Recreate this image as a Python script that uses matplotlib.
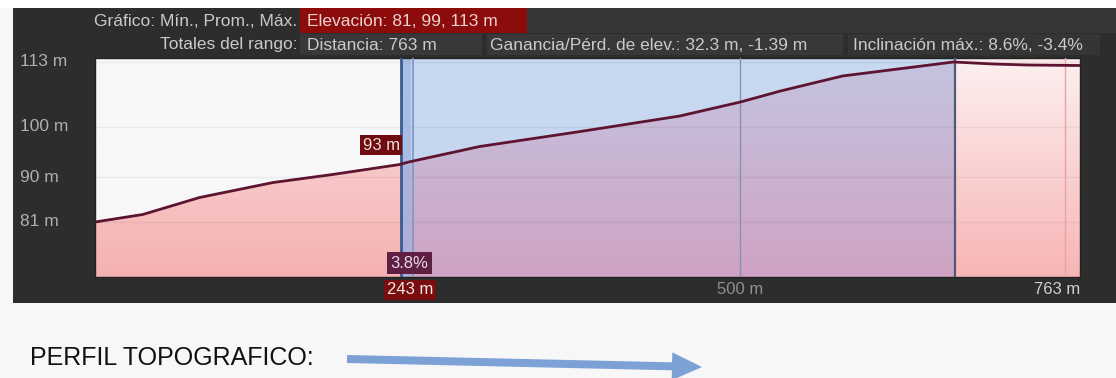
import numpy as np
import matplotlib
matplotlib.use('Agg')
import matplotlib.pyplot as plt
import matplotlib.transforms as mtransforms
from matplotlib.patches import Rectangle, Polygon, FancyArrow
from matplotlib.colors import LinearSegmentedColormap

plt.rcParams['font.family'] = ['Liberation Sans', 'DejaVu Sans']

# Elevation profile (distance in m, elevation in m)
dist = [0, 37, 81, 138, 184, 236, 243, 298, 376, 453, 500, 531, 579, 665, 696, 722, 763]
elev = [81, 82.5, 85.9, 88.9, 90.5, 92.5, 93, 96.1, 99.1, 102.2, 105, 107.2, 110.2, 113, 112.6, 112.4, 112.3]
ytick_vals = [113, 100, 90, 81]
xtick_vals = [500, 763]
sel_start, sel_end = 237, 666
cursor_dist, cursor_elev, cursor_grade = 243, 93, '3.8%'
stats_top = ['Gráfico: Mín., Prom., Máx.', 'Elevación: 81, 99, 113 m']
stats_bottom = ['Totales del rango:', 'Distancia: 763 m',
                'Ganancia/Pérd. de elev.: 32.3 m, -1.39 m', 'Inclinación máx.: 8.6%, -3.4%']

W, H = 1116, 378
y_min, y_max = 70, 113.8
fig = plt.figure(figsize=(W / 100, H / 100), dpi=100, facecolor='#f7f7f7')

# Background canvas in pixel units
bg = fig.add_axes([0, 0, 1, 1], zorder=0)
bg.set_xlim(0, W)
bg.set_ylim(H, 0)
bg.axis('off')

def rect(x0, y0, x1, y1, color, **kw):
    bg.add_patch(Rectangle((x0, y0), x1 - x0, y1 - y0, facecolor=color, edgecolor='none', **kw))

rect(0, 0, W, 8, 'white')
rect(13, 8, W, 303, '#2d2d2d')
rect(527, 8, W, 33, '#363636')
rect(300, 8, 527, 33, '#8c0c0c')
rect(300, 34, 482, 55, '#383838')
rect(487, 34, 843, 55, '#383838')
rect(848, 34, 1100, 55, '#353535')

txt = dict(color='#cacaca', fontsize=12.5, va='center')
bg.text(297, 21, stats_top[0], ha='right', **txt)
bg.text(307, 21, stats_top[1], ha='left', **dict(txt, color='#ecd2d2'))
bg.text(298, 45, stats_bottom[0], ha='right', **txt)
bg.text(307, 45, stats_bottom[1], ha='left', **txt)
bg.text(490, 45, stats_bottom[2], ha='left', **txt)
bg.text(853, 45, stats_bottom[3], ha='left', **txt)

bg.text(30, 358, 'PERFIL TOPOGRAFICO:', fontsize=18, color='#111111', ha='left', va='center')
bg.add_patch(FancyArrow(347, 359, 355, 8, width=8, head_width=28, head_length=30,
                        length_includes_head=True, color='#7ba1d6', ec='none'))

# Main profile axes
ax = fig.add_axes([95 / W, 1 - 277 / H, 985 / W, 219 / H], zorder=1)
ax.set_facecolor('#f8f8fa')

def shade(lo, hi, top_c, bot_c, below=True):
    inner = [(d, e) for d, e in zip(dist, elev) if lo < d < hi]
    edge = [(lo, np.interp(lo, dist, elev))] + inner + [(hi, np.interp(hi, dist, elev))]
    base = y_min if below else y_max
    poly = Polygon([(lo, base)] + edge + [(hi, base)], closed=True,
                   facecolor='none', edgecolor='none')
    ax.add_patch(poly)
    cmap = LinearSegmentedColormap.from_list('g', [bot_c, top_c])
    grad = np.linspace(0, 1, 256).reshape(-1, 1)
    im = ax.imshow(grad, extent=(lo, hi, y_min, y_max), origin='lower', cmap=cmap,
                   aspect='auto', interpolation='bilinear', zorder=1)
    im.set_clip_path(poly)

shade(0, sel_start, '#f8f8fa', '#f8f8fa', below=False)
shade(sel_start, sel_end, '#c9d9f0', '#c2d3ee', below=False)
shade(sel_end, 763, '#fbeaea', '#fbeaea', below=False)
shade(0, sel_start, '#fbe0e0', '#f5b1b1')
shade(sel_start, sel_end, '#c4c4e0', '#cfa3c3')
shade(sel_end, 763, '#fcf0f0', '#f8b5b5')

for v in ytick_vals:
    ax.axhline(v, color='#000000', alpha=0.05, lw=1, zorder=2)

ax.axvspan(sel_start, cursor_dist + 2, color='#9db3df', alpha=0.7, zorder=2, lw=0)
ax.axvline(sel_start, color='#3c5a92', lw=2, zorder=3)
ax.axvline(cursor_dist + 3, color='#7f98c8', lw=1.3, zorder=3)
ax.axvline(500, color='#8692b2', lw=1, zorder=3)
ax.axvline(sel_end, color='#4f5a78', lw=1.6, zorder=3)
ax.axvline(751, color='#eca2a2', lw=1, zorder=3)

ax.plot(dist, elev, color='#5e1430', lw=2, zorder=4, solid_capstyle='round')

ax.set_xlim(0, 763)
ax.set_ylim(y_min, y_max)
ax.set_xticks([])
ax.set_yticks([])
for s in ax.spines.values():
    s.set_color('#222222')
    s.set_linewidth(1)

# Cursor labels
ax.annotate(f'{cursor_elev} m', (cursor_dist, cursor_elev), xytext=(-9, 17),
            textcoords='offset pixels', ha='right', va='center', fontsize=12,
            color='#f2dcdc', zorder=6,
            bbox=dict(boxstyle='square,pad=0.15', fc='#6e0c12', ec='none'))
ax.annotate(cursor_grade, (cursor_dist, y_min), xytext=(1, 14),
            textcoords='offset pixels', ha='center', va='center', fontsize=12,
            color='#e8d8e8', zorder=6,
            bbox=dict(boxstyle='square,pad=0.2', fc='#5e1f42', ec='none'))

# Axis labels drawn in the dark frame
ylab_tr = mtransforms.blended_transform_factory(bg.transData, ax.transData)
for v in ytick_vals:
    bg.text(20, v, f'{v} m', transform=ylab_tr, ha='left', va='center',
            fontsize=12.5, color='#b0b0b0')
xlab_tr = mtransforms.blended_transform_factory(ax.transData, bg.transData)
bg.text(cursor_dist + 1, 290, f'{cursor_dist} m', transform=xlab_tr, ha='center', va='center',
        fontsize=12, color='#f4e4e4',
        bbox=dict(boxstyle='square,pad=0.15', fc='#7a0d0d', ec='none'))
bg.text(xtick_vals[0], 290, f'{xtick_vals[0]} m', transform=xlab_tr, ha='center',
        va='center', fontsize=12, color='#8f8f8f')
bg.text(xtick_vals[1], 290, f'{xtick_vals[1]} m', transform=xlab_tr, ha='right',
        va='center', fontsize=12, color='#d0d0d0')

fig.savefig('out.png', dpi=100, facecolor=fig.get_facecolor())
